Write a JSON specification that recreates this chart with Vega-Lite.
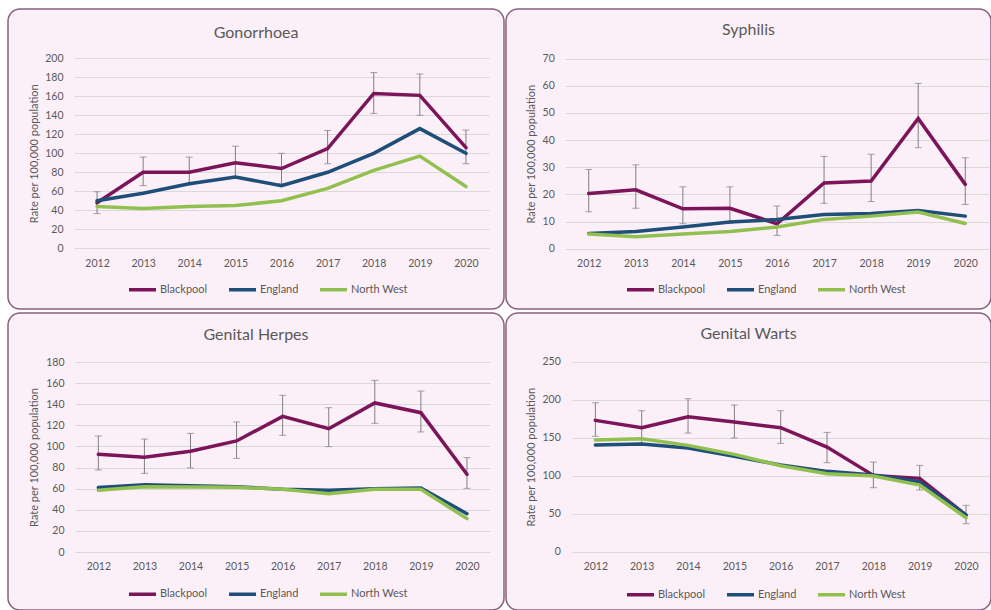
{
  "$schema": "https://vega.github.io/schema/vega-lite/v6.json",
  "padding": {"left": 7, "top": 8, "right": 0, "bottom": 0},
  "background": "white",
  "config": {
    "font": "Lato",
    "axis": {"labelFont": "Lato", "labelFontSize": 10.5, "labelColor": "#595959", "titleFont": "Lato", "titleFontSize": 11, "titleColor": "#595959", "titleFontWeight": "normal", "domain": false, "ticks": false, "labelPadding": 0, "labelOverlap": false},
    "title": {"font": "Lato", "fontSize": 16, "color": "#595959", "fontWeight": "normal", "anchor": "middle"},
    "legend": {"labelFont": "Lato", "labelFontSize": 11, "labelColor": "#595959"}
  },
  "datasets": {
    "rates": [
      {"disease": "Gonorrhoea", "area": "Blackpool", "year": 2012, "rate": 48},
      {"disease": "Gonorrhoea", "area": "Blackpool", "year": 2013, "rate": 80},
      {"disease": "Gonorrhoea", "area": "Blackpool", "year": 2014, "rate": 80},
      {"disease": "Gonorrhoea", "area": "Blackpool", "year": 2015, "rate": 90},
      {"disease": "Gonorrhoea", "area": "Blackpool", "year": 2016, "rate": 84},
      {"disease": "Gonorrhoea", "area": "Blackpool", "year": 2017, "rate": 105},
      {"disease": "Gonorrhoea", "area": "Blackpool", "year": 2018, "rate": 163},
      {"disease": "Gonorrhoea", "area": "Blackpool", "year": 2019, "rate": 161},
      {"disease": "Gonorrhoea", "area": "Blackpool", "year": 2020, "rate": 106},
      {"disease": "Gonorrhoea", "area": "England", "year": 2012, "rate": 50},
      {"disease": "Gonorrhoea", "area": "England", "year": 2013, "rate": 58},
      {"disease": "Gonorrhoea", "area": "England", "year": 2014, "rate": 68},
      {"disease": "Gonorrhoea", "area": "England", "year": 2015, "rate": 75},
      {"disease": "Gonorrhoea", "area": "England", "year": 2016, "rate": 66},
      {"disease": "Gonorrhoea", "area": "England", "year": 2017, "rate": 80},
      {"disease": "Gonorrhoea", "area": "England", "year": 2018, "rate": 100},
      {"disease": "Gonorrhoea", "area": "England", "year": 2019, "rate": 126},
      {"disease": "Gonorrhoea", "area": "England", "year": 2020, "rate": 100},
      {"disease": "Gonorrhoea", "area": "North West", "year": 2012, "rate": 44},
      {"disease": "Gonorrhoea", "area": "North West", "year": 2013, "rate": 42},
      {"disease": "Gonorrhoea", "area": "North West", "year": 2014, "rate": 44},
      {"disease": "Gonorrhoea", "area": "North West", "year": 2015, "rate": 45},
      {"disease": "Gonorrhoea", "area": "North West", "year": 2016, "rate": 50},
      {"disease": "Gonorrhoea", "area": "North West", "year": 2017, "rate": 63},
      {"disease": "Gonorrhoea", "area": "North West", "year": 2018, "rate": 82},
      {"disease": "Gonorrhoea", "area": "North West", "year": 2019, "rate": 97},
      {"disease": "Gonorrhoea", "area": "North West", "year": 2020, "rate": 65},
      {"disease": "Syphilis", "area": "Blackpool", "year": 2012, "rate": 20.3},
      {"disease": "Syphilis", "area": "Blackpool", "year": 2013, "rate": 21.7},
      {"disease": "Syphilis", "area": "Blackpool", "year": 2014, "rate": 14.7},
      {"disease": "Syphilis", "area": "Blackpool", "year": 2015, "rate": 14.9},
      {"disease": "Syphilis", "area": "Blackpool", "year": 2016, "rate": 9.2},
      {"disease": "Syphilis", "area": "Blackpool", "year": 2017, "rate": 24.2},
      {"disease": "Syphilis", "area": "Blackpool", "year": 2018, "rate": 24.9},
      {"disease": "Syphilis", "area": "Blackpool", "year": 2019, "rate": 48.0},
      {"disease": "Syphilis", "area": "Blackpool", "year": 2020, "rate": 23.7},
      {"disease": "Syphilis", "area": "England", "year": 2012, "rate": 5.6},
      {"disease": "Syphilis", "area": "England", "year": 2013, "rate": 6.3},
      {"disease": "Syphilis", "area": "England", "year": 2014, "rate": 8.0},
      {"disease": "Syphilis", "area": "England", "year": 2015, "rate": 9.8},
      {"disease": "Syphilis", "area": "England", "year": 2016, "rate": 10.8},
      {"disease": "Syphilis", "area": "England", "year": 2017, "rate": 12.6},
      {"disease": "Syphilis", "area": "England", "year": 2018, "rate": 13.0},
      {"disease": "Syphilis", "area": "England", "year": 2019, "rate": 14.1},
      {"disease": "Syphilis", "area": "England", "year": 2020, "rate": 12.0},
      {"disease": "Syphilis", "area": "North West", "year": 2012, "rate": 5.4},
      {"disease": "Syphilis", "area": "North West", "year": 2013, "rate": 4.4},
      {"disease": "Syphilis", "area": "North West", "year": 2014, "rate": 5.4},
      {"disease": "Syphilis", "area": "North West", "year": 2015, "rate": 6.3},
      {"disease": "Syphilis", "area": "North West", "year": 2016, "rate": 8.0},
      {"disease": "Syphilis", "area": "North West", "year": 2017, "rate": 10.8},
      {"disease": "Syphilis", "area": "North West", "year": 2018, "rate": 12.0},
      {"disease": "Syphilis", "area": "North West", "year": 2019, "rate": 13.5},
      {"disease": "Syphilis", "area": "North West", "year": 2020, "rate": 9.3},
      {"disease": "Genital Herpes", "area": "Blackpool", "year": 2012, "rate": 92.5},
      {"disease": "Genital Herpes", "area": "Blackpool", "year": 2013, "rate": 89.7},
      {"disease": "Genital Herpes", "area": "Blackpool", "year": 2014, "rate": 95.4},
      {"disease": "Genital Herpes", "area": "Blackpool", "year": 2015, "rate": 105.2},
      {"disease": "Genital Herpes", "area": "Blackpool", "year": 2016, "rate": 128.5},
      {"disease": "Genital Herpes", "area": "Blackpool", "year": 2017, "rate": 116.8},
      {"disease": "Genital Herpes", "area": "Blackpool", "year": 2018, "rate": 141.2},
      {"disease": "Genital Herpes", "area": "Blackpool", "year": 2019, "rate": 132},
      {"disease": "Genital Herpes", "area": "Blackpool", "year": 2020, "rate": 73.6},
      {"disease": "Genital Herpes", "area": "England", "year": 2012, "rate": 61},
      {"disease": "Genital Herpes", "area": "England", "year": 2013, "rate": 63.8},
      {"disease": "Genital Herpes", "area": "England", "year": 2014, "rate": 62.8},
      {"disease": "Genital Herpes", "area": "England", "year": 2015, "rate": 61.9},
      {"disease": "Genital Herpes", "area": "England", "year": 2016, "rate": 59.4},
      {"disease": "Genital Herpes", "area": "England", "year": 2017, "rate": 58.4},
      {"disease": "Genital Herpes", "area": "England", "year": 2018, "rate": 60},
      {"disease": "Genital Herpes", "area": "England", "year": 2019, "rate": 60.6},
      {"disease": "Genital Herpes", "area": "England", "year": 2020, "rate": 36.3},
      {"disease": "Genital Herpes", "area": "North West", "year": 2012, "rate": 58.4},
      {"disease": "Genital Herpes", "area": "North West", "year": 2013, "rate": 61.9},
      {"disease": "Genital Herpes", "area": "North West", "year": 2014, "rate": 61.6},
      {"disease": "Genital Herpes", "area": "North West", "year": 2015, "rate": 61.3},
      {"disease": "Genital Herpes", "area": "North West", "year": 2016, "rate": 59.4},
      {"disease": "Genital Herpes", "area": "North West", "year": 2017, "rate": 55.3},
      {"disease": "Genital Herpes", "area": "North West", "year": 2018, "rate": 59.4},
      {"disease": "Genital Herpes", "area": "North West", "year": 2019, "rate": 59.4},
      {"disease": "Genital Herpes", "area": "North West", "year": 2020, "rate": 31.6},
      {"disease": "Genital Warts", "area": "Blackpool", "year": 2012, "rate": 172.8},
      {"disease": "Genital Warts", "area": "Blackpool", "year": 2013, "rate": 163.2},
      {"disease": "Genital Warts", "area": "Blackpool", "year": 2014, "rate": 177.6},
      {"disease": "Genital Warts", "area": "Blackpool", "year": 2015, "rate": 170.6},
      {"disease": "Genital Warts", "area": "Blackpool", "year": 2016, "rate": 163.2},
      {"disease": "Genital Warts", "area": "Blackpool", "year": 2017, "rate": 137.7},
      {"disease": "Genital Warts", "area": "Blackpool", "year": 2018, "rate": 100.4},
      {"disease": "Genital Warts", "area": "Blackpool", "year": 2019, "rate": 96.5},
      {"disease": "Genital Warts", "area": "Blackpool", "year": 2020, "rate": 48.2},
      {"disease": "Genital Warts", "area": "England", "year": 2012, "rate": 140.4},
      {"disease": "Genital Warts", "area": "England", "year": 2013, "rate": 141.7},
      {"disease": "Genital Warts", "area": "England", "year": 2014, "rate": 136.4},
      {"disease": "Genital Warts", "area": "England", "year": 2015, "rate": 125.4},
      {"disease": "Genital Warts", "area": "England", "year": 2016, "rate": 114},
      {"disease": "Genital Warts", "area": "England", "year": 2017, "rate": 105.7},
      {"disease": "Genital Warts", "area": "England", "year": 2018, "rate": 100.9},
      {"disease": "Genital Warts", "area": "England", "year": 2019, "rate": 92.1},
      {"disease": "Genital Warts", "area": "England", "year": 2020, "rate": 48.2},
      {"disease": "Genital Warts", "area": "North West", "year": 2012, "rate": 146.9},
      {"disease": "Genital Warts", "area": "North West", "year": 2013, "rate": 148.7},
      {"disease": "Genital Warts", "area": "North West", "year": 2014, "rate": 139.9},
      {"disease": "Genital Warts", "area": "North West", "year": 2015, "rate": 128.1},
      {"disease": "Genital Warts", "area": "North West", "year": 2016, "rate": 113.2},
      {"disease": "Genital Warts", "area": "North West", "year": 2017, "rate": 102.6},
      {"disease": "Genital Warts", "area": "North West", "year": 2018, "rate": 99.6},
      {"disease": "Genital Warts", "area": "North West", "year": 2019, "rate": 87.7},
      {"disease": "Genital Warts", "area": "North West", "year": 2020, "rate": 44.7}
    ],
    "ci": [
      {"disease": "Gonorrhoea", "year": 2012, "lower": 36.5, "upper": 59.5},
      {"disease": "Gonorrhoea", "year": 2013, "lower": 66, "upper": 96},
      {"disease": "Gonorrhoea", "year": 2014, "lower": 67, "upper": 96},
      {"disease": "Gonorrhoea", "year": 2015, "lower": 74, "upper": 107.5},
      {"disease": "Gonorrhoea", "year": 2016, "lower": 68, "upper": 100},
      {"disease": "Gonorrhoea", "year": 2017, "lower": 89, "upper": 124},
      {"disease": "Gonorrhoea", "year": 2018, "lower": 142, "upper": 185},
      {"disease": "Gonorrhoea", "year": 2019, "lower": 140, "upper": 183.5},
      {"disease": "Gonorrhoea", "year": 2020, "lower": 89, "upper": 124.5},
      {"disease": "Syphilis", "year": 2012, "lower": 13.6, "upper": 29.2},
      {"disease": "Syphilis", "year": 2013, "lower": 14.9, "upper": 30.9},
      {"disease": "Syphilis", "year": 2014, "lower": 9.2, "upper": 22.8},
      {"disease": "Syphilis", "year": 2015, "lower": 9.3, "upper": 22.8},
      {"disease": "Syphilis", "year": 2016, "lower": 4.9, "upper": 15.7},
      {"disease": "Syphilis", "year": 2017, "lower": 16.7, "upper": 34.0},
      {"disease": "Syphilis", "year": 2018, "lower": 17.4, "upper": 34.8},
      {"disease": "Syphilis", "year": 2019, "lower": 37.2, "upper": 60.9},
      {"disease": "Syphilis", "year": 2020, "lower": 16.3, "upper": 33.5},
      {"disease": "Genital Herpes", "year": 2012, "lower": 77.7, "upper": 109.9},
      {"disease": "Genital Herpes", "year": 2013, "lower": 74.5, "upper": 107},
      {"disease": "Genital Herpes", "year": 2014, "lower": 79.6, "upper": 112.4},
      {"disease": "Genital Herpes", "year": 2015, "lower": 88.7, "upper": 123.2},
      {"disease": "Genital Herpes", "year": 2016, "lower": 110.5, "upper": 148.4},
      {"disease": "Genital Herpes", "year": 2017, "lower": 99.8, "upper": 136.7},
      {"disease": "Genital Herpes", "year": 2018, "lower": 121.9, "upper": 162.6},
      {"disease": "Genital Herpes", "year": 2019, "lower": 113.7, "upper": 152.5},
      {"disease": "Genital Herpes", "year": 2020, "lower": 60.3, "upper": 89.4},
      {"disease": "Genital Warts", "year": 2012, "lower": 151.8, "upper": 196},
      {"disease": "Genital Warts", "year": 2013, "lower": 142.5, "upper": 185.5},
      {"disease": "Genital Warts", "year": 2014, "lower": 156.1, "upper": 201.3},
      {"disease": "Genital Warts", "year": 2015, "lower": 149.6, "upper": 193},
      {"disease": "Genital Warts", "year": 2016, "lower": 142.5, "upper": 185.5},
      {"disease": "Genital Warts", "year": 2017, "lower": 117.1, "upper": 157},
      {"disease": "Genital Warts", "year": 2018, "lower": 84.2, "upper": 118},
      {"disease": "Genital Warts", "year": 2019, "lower": 81.1, "upper": 113.6},
      {"disease": "Genital Warts", "year": 2020, "lower": 36.8, "upper": 61}
    ]
  },
  "resolve": {"scale": {"color": "independent", "x": "independent", "y": "independent"}, "legend": {"color": "independent"}},
  "bounds": "flush",
  "columns": 2,
  "spacing": {"row": 4, "column": 2},
  "concat": [
    {
      "width": 496, "height": 300,
      "view": {"fill": "#fcf0f8", "stroke": "#86607e", "strokeWidth": 1.5, "cornerRadius": 12},
      "title": {"text": "Gonorrhoea", "offset": -40, "baseline": "middle"},
      "encoding": {"x": {"field": "year", "type": "quantitative", "scale": {"domain": [2011.5, 2020.5], "range": [66, 481], "nice": false, "zero": false}, "axis": {"orient": "bottom", "offset": -51, "values": [2012, 2013, 2014, 2015, 2016, 2017, 2018, 2019, 2020], "tickCount": 20, "format": "d", "grid": false, "labelFlush": false, "title": null}}},
      "layer": [
        {"data": {"name": "ci"}, "transform": [{"filter": "datum.disease === 'Gonorrhoea'"}], "mark": {"type": "rule", "color": "#7f7f7f", "strokeWidth": 1},
         "encoding": {"y": {"field": "lower", "type": "quantitative", "title": "Rate per 100,000 population", "scale": {"domain": [0, 200], "range": [239.3, 49.3], "nice": false, "zero": false}, "axis": {"offset": -55, "values": [0, 20, 40, 60, 80, 100, 120, 140, 160, 180, 200], "tickCount": 20, "labelOverlap": false, "grid": true, "gridColor": "#d9d9d9", "gridWidth": 1, "titleX": -29, "titleBaseline": "middle"}}, "y2": {"field": "upper"}}},
        {"data": {"name": "ci"}, "transform": [{"filter": "datum.disease === 'Gonorrhoea'"}], "mark": {"type": "tick", "orient": "horizontal", "size": 7, "thickness": 1, "color": "#7f7f7f"},
         "encoding": {"y": {"field": "lower", "type": "quantitative", "title": "Rate per 100,000 population"}}},
        {"data": {"name": "ci"}, "transform": [{"filter": "datum.disease === 'Gonorrhoea'"}], "mark": {"type": "tick", "orient": "horizontal", "size": 7, "thickness": 1, "color": "#7f7f7f"},
         "encoding": {"y": {"field": "upper", "type": "quantitative", "title": "Rate per 100,000 population"}}},
        {"data": {"name": "rates"}, "transform": [{"filter": "datum.disease === 'Gonorrhoea'"}], "mark": {"type": "line", "strokeWidth": 3.5, "strokeCap": "round"},
         "encoding": {"y": {"field": "rate", "type": "quantitative", "title": "Rate per 100,000 population"},
           "color": {"field": "area", "type": "nominal", "scale": {"domain": ["Blackpool", "England", "North West"], "range": ["#7b1458", "#1f4e79", "#92c050"]},
             "legend": {"orient": "none", "legendX": 119, "legendY": 265, "direction": "horizontal", "title": null, "symbolType": "stroke", "symbolSize": 729, "symbolStrokeWidth": 3.5, "labelOffset": 2, "columnPadding": 14}}}}
      ]
    },
    {
      "width": 485, "height": 300,
      "view": {"fill": "#fcf0f8", "stroke": "#86607e", "strokeWidth": 1.5, "cornerRadius": 12},
      "title": {"text": "Syphilis", "offset": -37, "baseline": "middle"},
      "encoding": {"x": {"field": "year", "type": "quantitative", "scale": {"domain": [2011.5, 2020.5], "range": [59.2, 482.8], "nice": false, "zero": false}, "axis": {"orient": "bottom", "offset": -51, "values": [2012, 2013, 2014, 2015, 2016, 2017, 2018, 2019, 2020], "tickCount": 20, "format": "d", "grid": false, "labelFlush": false, "title": null}}},
      "layer": [
        {"data": {"name": "ci"}, "transform": [{"filter": "datum.disease === 'Syphilis'"}], "mark": {"type": "rule", "color": "#7f7f7f", "strokeWidth": 1},
         "encoding": {"y": {"field": "lower", "type": "quantitative", "title": "Rate per 100,000 population", "scale": {"domain": [0, 70], "range": [239.7, 49.7], "nice": false, "zero": false}, "axis": {"offset": -48.3, "values": [0, 10, 20, 30, 40, 50, 60, 70], "tickCount": 20, "labelOverlap": false, "grid": true, "gridColor": "#d9d9d9", "gridWidth": 1, "titleX": -22.6, "titleBaseline": "middle"}}, "y2": {"field": "upper"}}},
        {"data": {"name": "ci"}, "transform": [{"filter": "datum.disease === 'Syphilis'"}], "mark": {"type": "tick", "orient": "horizontal", "size": 7, "thickness": 1, "color": "#7f7f7f"},
         "encoding": {"y": {"field": "lower", "type": "quantitative", "title": "Rate per 100,000 population"}}},
        {"data": {"name": "ci"}, "transform": [{"filter": "datum.disease === 'Syphilis'"}], "mark": {"type": "tick", "orient": "horizontal", "size": 7, "thickness": 1, "color": "#7f7f7f"},
         "encoding": {"y": {"field": "upper", "type": "quantitative", "title": "Rate per 100,000 population"}}},
        {"data": {"name": "rates"}, "transform": [{"filter": "datum.disease === 'Syphilis'"}], "mark": {"type": "line", "strokeWidth": 3.5, "strokeCap": "round"},
         "encoding": {"y": {"field": "rate", "type": "quantitative", "title": "Rate per 100,000 population"},
           "color": {"field": "area", "type": "nominal", "scale": {"domain": ["Blackpool", "England", "North West"], "range": ["#7b1458", "#1f4e79", "#92c050"]},
             "legend": {"orient": "none", "legendX": 119, "legendY": 265, "direction": "horizontal", "title": null, "symbolType": "stroke", "symbolSize": 729, "symbolStrokeWidth": 3.5, "labelOffset": 2, "columnPadding": 14}}}}
      ]
    },
    {
      "width": 496, "height": 297,
      "view": {"fill": "#fcf0f8", "stroke": "#86607e", "strokeWidth": 1.5, "cornerRadius": 12},
      "title": {"text": "Genital Herpes", "offset": -38, "baseline": "middle"},
      "encoding": {"x": {"field": "year", "type": "quantitative", "scale": {"domain": [2011.5, 2020.5], "range": [67.3, 482], "nice": false, "zero": false}, "axis": {"orient": "bottom", "offset": -48.5, "values": [2012, 2013, 2014, 2015, 2016, 2017, 2018, 2019, 2020], "tickCount": 20, "format": "d", "grid": false, "labelFlush": false, "title": null}}},
      "layer": [
        {"data": {"name": "ci"}, "transform": [{"filter": "datum.disease === 'Genital Herpes'"}], "mark": {"type": "rule", "color": "#7f7f7f", "strokeWidth": 1},
         "encoding": {"y": {"field": "lower", "type": "quantitative", "title": "Rate per 100,000 population", "scale": {"domain": [0, 180], "range": [239, 49], "nice": false, "zero": false}, "axis": {"offset": -56, "values": [0, 20, 40, 60, 80, 100, 120, 140, 160, 180], "tickCount": 20, "labelOverlap": false, "grid": true, "gridColor": "#d9d9d9", "gridWidth": 1, "titleX": -29.7, "titleBaseline": "middle"}}, "y2": {"field": "upper"}}},
        {"data": {"name": "ci"}, "transform": [{"filter": "datum.disease === 'Genital Herpes'"}], "mark": {"type": "tick", "orient": "horizontal", "size": 7, "thickness": 1, "color": "#7f7f7f"},
         "encoding": {"y": {"field": "lower", "type": "quantitative", "title": "Rate per 100,000 population"}}},
        {"data": {"name": "ci"}, "transform": [{"filter": "datum.disease === 'Genital Herpes'"}], "mark": {"type": "tick", "orient": "horizontal", "size": 7, "thickness": 1, "color": "#7f7f7f"},
         "encoding": {"y": {"field": "upper", "type": "quantitative", "title": "Rate per 100,000 population"}}},
        {"data": {"name": "rates"}, "transform": [{"filter": "datum.disease === 'Genital Herpes'"}], "mark": {"type": "line", "strokeWidth": 3.5, "strokeCap": "round"},
         "encoding": {"y": {"field": "rate", "type": "quantitative", "title": "Rate per 100,000 population"},
           "color": {"field": "area", "type": "nominal", "scale": {"domain": ["Blackpool", "England", "North West"], "range": ["#7b1458", "#1f4e79", "#92c050"]},
             "legend": {"orient": "none", "legendX": 119, "legendY": 265.5, "direction": "horizontal", "title": null, "symbolType": "stroke", "symbolSize": 729, "symbolStrokeWidth": 3.5, "labelOffset": 2, "columnPadding": 14}}}}
      ]
    },
    {
      "width": 485, "height": 297,
      "view": {"fill": "#fcf0f8", "stroke": "#86607e", "strokeWidth": 1.5, "cornerRadius": 12},
      "title": {"text": "Genital Warts", "offset": -37, "baseline": "middle"},
      "encoding": {"x": {"field": "year", "type": "quantitative", "scale": {"domain": [2011.5, 2020.5], "range": [66.2, 483.2], "nice": false, "zero": false}, "axis": {"orient": "bottom", "offset": -48.5, "values": [2012, 2013, 2014, 2015, 2016, 2017, 2018, 2019, 2020], "tickCount": 20, "format": "d", "grid": false, "labelFlush": false, "title": null}}},
      "layer": [
        {"data": {"name": "ci"}, "transform": [{"filter": "datum.disease === 'Genital Warts'"}], "mark": {"type": "rule", "color": "#7f7f7f", "strokeWidth": 1},
         "encoding": {"y": {"field": "lower", "type": "quantitative", "title": "Rate per 100,000 population", "scale": {"domain": [0, 250], "range": [238.7, 48.7], "nice": false, "zero": false}, "axis": {"offset": -54.3, "values": [0, 50, 100, 150, 200, 250], "tickCount": 20, "labelOverlap": false, "grid": true, "gridColor": "#d9d9d9", "gridWidth": 1, "titleX": -28.6, "titleBaseline": "middle"}}, "y2": {"field": "upper"}}},
        {"data": {"name": "ci"}, "transform": [{"filter": "datum.disease === 'Genital Warts'"}], "mark": {"type": "tick", "orient": "horizontal", "size": 7, "thickness": 1, "color": "#7f7f7f"},
         "encoding": {"y": {"field": "lower", "type": "quantitative", "title": "Rate per 100,000 population"}}},
        {"data": {"name": "ci"}, "transform": [{"filter": "datum.disease === 'Genital Warts'"}], "mark": {"type": "tick", "orient": "horizontal", "size": 7, "thickness": 1, "color": "#7f7f7f"},
         "encoding": {"y": {"field": "upper", "type": "quantitative", "title": "Rate per 100,000 population"}}},
        {"data": {"name": "rates"}, "transform": [{"filter": "datum.disease === 'Genital Warts'"}], "mark": {"type": "line", "strokeWidth": 3.5, "strokeCap": "round"},
         "encoding": {"y": {"field": "rate", "type": "quantitative", "title": "Rate per 100,000 population"},
           "color": {"field": "area", "type": "nominal", "scale": {"domain": ["Blackpool", "England", "North West"], "range": ["#7b1458", "#1f4e79", "#92c050"]},
             "legend": {"orient": "none", "legendX": 119, "legendY": 266, "direction": "horizontal", "title": null, "symbolType": "stroke", "symbolSize": 729, "symbolStrokeWidth": 3.5, "labelOffset": 2, "columnPadding": 14}}}}
      ]
    }
  ]
}
